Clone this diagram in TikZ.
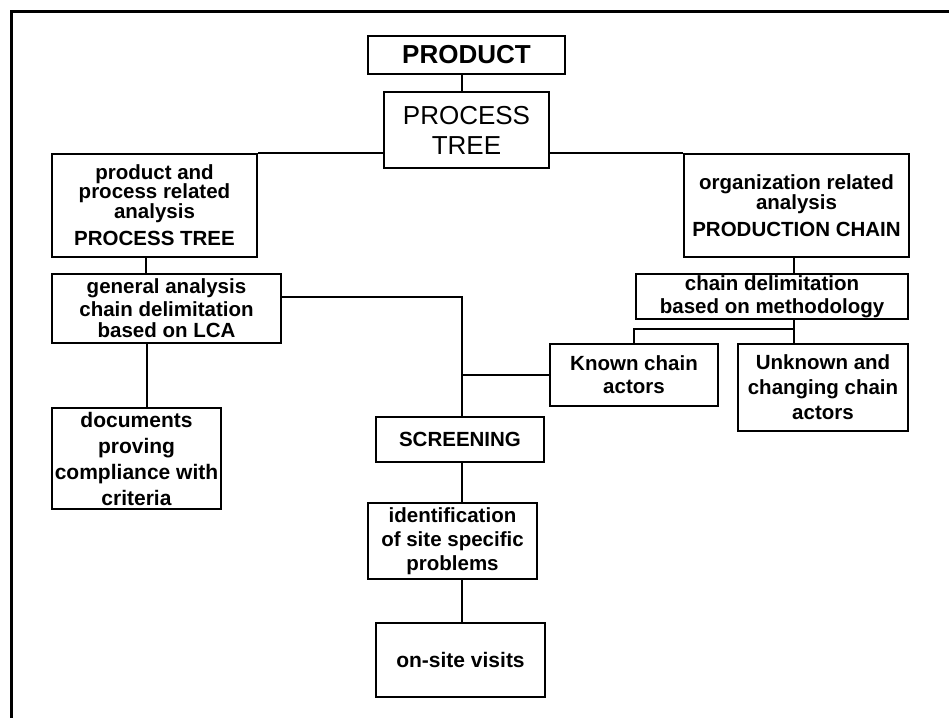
\documentclass[tikz,border=0pt]{standalone}
\usepackage{fontspec}
\setmainfont{Liberation Sans}
\tikzset{
  box/.style={draw, line width=1.8pt, inner sep=0pt, align=center,
    font=\bfseries\fontsize{20.5}{23}\selectfont},
  conn/.style={line width=1.8pt},
  frameline/.style={line width=3.5pt},
}
\begin{document}
\begin{tikzpicture}[x=1pt,y=-1pt]
\useasboundingbox (0,0) rectangle (949,718);
% frame (top and left edges only)
\draw[frameline] (10,11.5) -- (949,11.5);
\draw[frameline] (11.5,10) -- (11.5,718);

\node[box, minimum width=197pt, minimum height=38pt,
      font=\bfseries\fontsize{26}{30}\selectfont] (prod) at (466.5,55) {PRODUCT};
\node[box, minimum width=165pt, minimum height=76pt,
      font=\fontsize{26}{30}\selectfont] (ptree) at (466.5,130) {PROCESS\\TREE};
\node[box, minimum width=205pt, minimum height=103pt] (lbox) at (154.5,205.5)
  {product and\\[-4pt]process related\\[-3pt]analysis\\[4pt]PROCESS TREE};
\node[box, minimum width=225pt, minimum height=103pt] (rbox) at (796.5,205.5)
  {organization related\\[-3pt]analysis\\[4pt]PRODUCTION CHAIN};
\node[box, minimum width=229pt, minimum height=69pt] (gen) at (166.5,308.5)
  {general analysis\\chain delimitation\\[-2pt]based on LCA};
\node[box, minimum width=272pt, minimum height=45pt] (chain) at (772,296.5)
  {chain delimitation\\based on methodology};
\node[box, minimum width=168pt, minimum height=62pt] (known) at (634,375)
  {Known chain\\actors};
\node[box, minimum width=170pt, minimum height=87pt] (unk) at (823,387.5)
  {Unknown and\\[2pt]changing chain\\[2pt]actors};
\node[box, minimum width=169pt, minimum height=101pt,
      font=\bfseries\fontsize{21}{26}\selectfont] (docs) at (136.5,458.5)
  {documents\\proving\\compliance with\\criteria};
\node[box, minimum width=168pt, minimum height=45pt] (screen) at (460,439.5)
  {SCREENING};
\node[box, minimum width=169pt, minimum height=76pt] (ident) at (452.5,541)
  {identification\\[1pt]of site specific\\[1pt]problems};
\node[box, minimum width=169pt, minimum height=74pt,
      font=\bfseries\fontsize{21}{24}\selectfont] (onsite) at (460.5,660)
  {on-site visits};

\coordinate (j1) at (462,297);
\coordinate (j2) at (794,329);

% connectors
\draw[conn] ([xshift=-4.5pt]prod.south) -- ([xshift=-4.5pt]ptree.north);
\draw[conn] (ptree.west |- lbox.north east) -- (lbox.north east);
\draw[conn] (ptree.east |- rbox.north west) -- (rbox.north west);
\draw[conn] ([xshift=-8.5pt]lbox.south) -- ([xshift=-8.5pt]lbox.south |- gen.north);
\draw[conn] ([xshift=-19.5pt]gen.south) -- ([xshift=-19.5pt]gen.south |- docs.north);
\draw[conn] (gen.east |- j1) -- (j1) -- (j1 |- screen.north);
\draw[conn] (known.west) -- (known.west -| j1);
\draw[conn] (rbox.south -| j2) -- (chain.north -| j2);
\draw[conn] (chain.south -| j2) -- (unk.north -| j2);
\draw[conn] (j2) -| (known.north);
\draw[conn] (screen.south -| j1) -- (ident.north -| j1);
\draw[conn] (ident.south -| j1) -- (onsite.north -| j1);
\end{tikzpicture}
\end{document}
